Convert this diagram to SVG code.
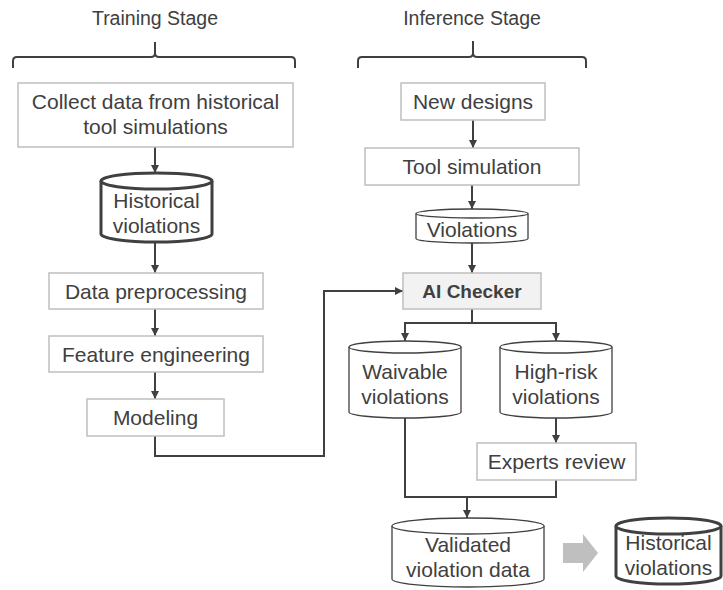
<svg xmlns="http://www.w3.org/2000/svg" width="723" height="590" viewBox="0 0 723 590">
  <defs>
    <marker id="arrow" markerUnits="userSpaceOnUse" markerWidth="9" markerHeight="9" refX="8" refY="4.5" orient="auto">
      <path d="M0,0.5 L8,4.5 L0,8.5 Z" fill="#404040"/>
    </marker>
    <style>
      text { font-family: "Liberation Sans", Arial, sans-serif; fill: #404040; text-anchor: middle; }
      .head { font-size: 19.5px; }
      .lbl { font-size: 21px; }
      .bold { font-size: 19px; font-weight: bold; }
      .box { fill: #ffffff; stroke: #bfbfbf; stroke-width: 1.5; }
      .boxhl { fill: #f2f2f2; stroke: #bfbfbf; stroke-width: 1.5; }
      .cyl { fill: #ffffff; stroke: #404040; stroke-width: 1.3; }
      .cylthick { fill: #ffffff; stroke: #404040; stroke-width: 3; }
      .brace { fill: none; stroke: #404040; stroke-width: 2; }
      .conn { fill: none; stroke: #404040; stroke-width: 2; }
    </style>
  </defs>

  <!-- Stage headings with braces -->
  <g id="training-stage">
    <text class="head" x="155" y="25">Training Stage</text>
    <path class="brace" d="M13,68 V61 Q13,57 17,57 H151 Q155,57 155,53 V42 M155,53 Q155,57 159,57 H291 Q295,57 295,61 V68"/>
  </g>
  <g id="inference-stage">
    <text class="head" x="472" y="25">Inference Stage</text>
    <path class="brace" d="M358,68 V61 Q358,57 362,57 H469 Q473,57 473,53 V41 M473,53 Q473,57 477,57 H582 Q586,57 586,61 V68"/>
  </g>

  <!-- Connectors -->
  <g id="connectors">
    <line class="conn" x1="155" y1="147" x2="155" y2="173" marker-end="url(#arrow)"/>
    <line class="conn" x1="155" y1="242" x2="155" y2="273" marker-end="url(#arrow)"/>
    <line class="conn" x1="155" y1="309" x2="155" y2="336" marker-end="url(#arrow)"/>
    <line class="conn" x1="155" y1="372" x2="155" y2="399" marker-end="url(#arrow)"/>
    <polyline class="conn" points="155,436 155,456 324,456 324,291 403,291" marker-end="url(#arrow)"/>
    <line class="conn" x1="473" y1="120" x2="473" y2="148" marker-end="url(#arrow)"/>
    <line class="conn" x1="472" y1="185" x2="472" y2="209" marker-end="url(#arrow)"/>
    <line class="conn" x1="472" y1="243" x2="472" y2="273" marker-end="url(#arrow)"/>
    <polyline class="conn" points="472,309 472,323"/>
    <polyline class="conn" points="405,341 405,323 556,323 556,341"/>
    <line class="conn" x1="405" y1="329" x2="405" y2="341" marker-end="url(#arrow)"/>
    <line class="conn" x1="556" y1="329" x2="556" y2="341" marker-end="url(#arrow)"/>
    <line class="conn" x1="556" y1="418" x2="556" y2="443" marker-end="url(#arrow)"/>
    <polyline class="conn" points="405,418 405,497 556,497 556,480"/>
    <line class="conn" x1="467" y1="497" x2="467" y2="518" marker-end="url(#arrow)"/>
    <path d="M563,543 H583 V534 L598,553 L583,572 V563 H563 Z" fill="#bfbfbf"/>
  </g>

  <!-- Training stage nodes -->
  <g id="collect-data">
    <rect class="box" x="18" y="83" width="275" height="64"/>
    <text class="lbl" x="155.5" y="109">Collect data from historical</text>
    <text class="lbl" x="155.5" y="134">tool simulations</text>
  </g>
  <g id="historical-violations-train">
    <path class="cylthick" d="M101,181 V234 A55.5,8 0 0 0 212,234 V181"/>
    <ellipse class="cylthick" cx="156.5" cy="181" rx="55.5" ry="8"/>
    <text class="lbl" x="156.5" y="208">Historical</text>
    <text class="lbl" x="156.5" y="233">violations</text>
  </g>
  <g id="data-preprocessing">
    <rect class="box" x="49" y="273" width="214" height="36"/>
    <text class="lbl" x="156" y="299">Data preprocessing</text>
  </g>
  <g id="feature-engineering">
    <rect class="box" x="49" y="336" width="214" height="36"/>
    <text class="lbl" x="156" y="362">Feature engineering</text>
  </g>
  <g id="modeling">
    <rect class="box" x="87" y="399" width="137" height="37"/>
    <text class="lbl" x="155.5" y="425">Modeling</text>
  </g>

  <!-- Inference stage nodes -->
  <g id="new-designs">
    <rect class="box" x="401" y="83" width="144" height="37"/>
    <text class="lbl" x="473" y="109">New designs</text>
  </g>
  <g id="tool-simulation">
    <rect class="box" x="365" y="148" width="214" height="37"/>
    <text class="lbl" x="472" y="174">Tool simulation</text>
  </g>
  <g id="violations">
    <path class="cyl" d="M416,213.5 V238.5 A56,4.5 0 0 0 528,238.5 V213.5"/>
    <ellipse class="cyl" cx="472" cy="213.5" rx="56" ry="4.5"/>
    <text class="lbl" x="472" y="237">Violations</text>
  </g>
  <g id="ai-checker">
    <rect class="boxhl" x="403" y="273" width="138" height="36"/>
    <text class="bold" x="472" y="298">AI Checker</text>
  </g>
  <g id="waivable-violations">
    <path class="cyl" d="M349,347 V412 A56,6 0 0 0 461,412 V347"/>
    <ellipse class="cyl" cx="405" cy="347" rx="56" ry="6"/>
    <text class="lbl" x="405" y="379">Waivable</text>
    <text class="lbl" x="405" y="404">violations</text>
  </g>
  <g id="high-risk-violations">
    <path class="cyl" d="M500,347 V412 A56,6 0 0 0 612,412 V347"/>
    <ellipse class="cyl" cx="556" cy="347" rx="56" ry="6"/>
    <text class="lbl" x="556" y="379">High-risk</text>
    <text class="lbl" x="556" y="404">violations</text>
  </g>
  <g id="experts-review">
    <rect class="box" x="477" y="443" width="159" height="37"/>
    <text class="lbl" x="556.5" y="469">Experts review</text>
  </g>
  <g id="validated-violation-data">
    <path class="cyl" d="M392,526 V579 A76,8 0 0 0 544,579 V526"/>
    <ellipse class="cyl" cx="468" cy="526" rx="76" ry="8"/>
    <text class="lbl" x="468" y="552">Validated</text>
    <text class="lbl" x="468" y="577">violation data</text>
  </g>
  <g id="historical-violations-out">
    <path class="cylthick" d="M616,526 V576 A52.5,8 0 0 0 721,576 V526"/>
    <ellipse class="cylthick" cx="668.5" cy="526" rx="52.5" ry="8"/>
    <text class="lbl" x="668.5" y="550">Historical</text>
    <text class="lbl" x="668.5" y="575">violations</text>
  </g>
</svg>
